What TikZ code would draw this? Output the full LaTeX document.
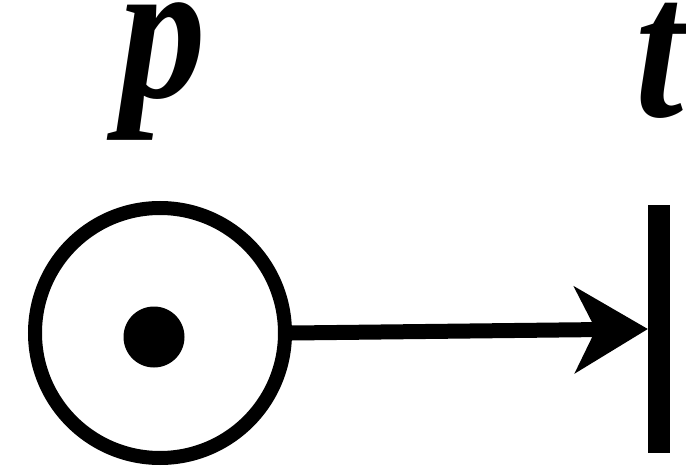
\documentclass[tikz,border=0pt]{standalone}
\usepackage{fontspec}
\setmainfont{Liberation Serif}
\usetikzlibrary{arrows.meta}
\begin{document}
\begin{tikzpicture}[x=1pt,y=-1pt,
  place/.style={circle,draw,line width=14pt,minimum size=250pt,inner sep=0pt},
  token/.style={circle,fill,minimum size=61pt,inner sep=0pt},
  trans/.style={rectangle,fill,minimum width=22pt,minimum height=248pt,inner sep=0pt},
  lbl/.style={anchor=base,inner sep=0pt,xscale=1.05,yscale=1.22,font=\fontsize{165}{165}\selectfont\bfseries\itshape},
  arc/.style={line width=15pt,-{Stealth[length=74pt 0,width=88pt 0,inset=22pt 0,line width=0pt]}}]
\useasboundingbox (0,0) rectangle (686,476);
\node[place] (p) at (160,333) {};
\node[token] (tok) at (154,337) {};
\node[trans] (t) at (659,329) {};
\node[lbl] (pl) at (163,98) {p};
\node[lbl] (tl) at (660,117) {t};
\draw[arc] (p.east) -- (t.west);
\end{tikzpicture}
\end{document}
